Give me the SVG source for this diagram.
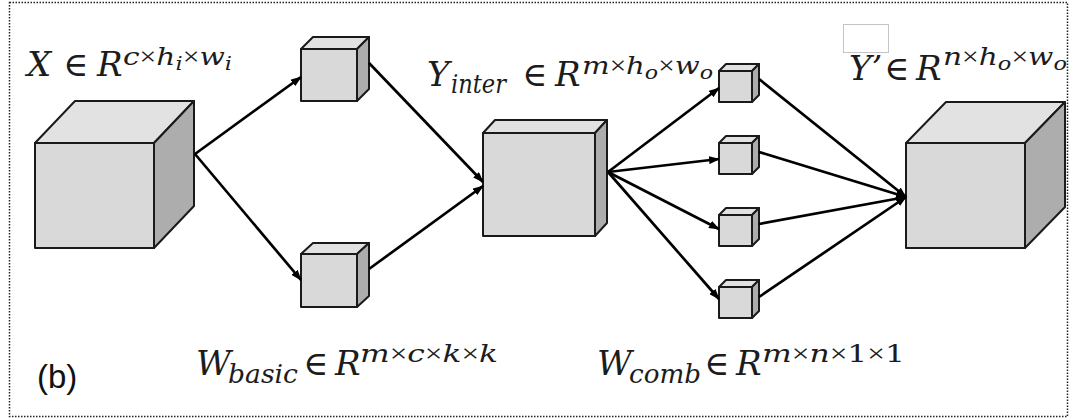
<svg xmlns="http://www.w3.org/2000/svg" width="1071" height="419" viewBox="0 0 1071 419">
  <style>
    .front { fill: #d9d9d9; stroke: #1a1a1a; stroke-width: 2; stroke-linejoin: round; }
    .top { fill: #e2e2e2; stroke: #1a1a1a; stroke-width: 2; stroke-linejoin: round; }
    .side { fill: #adadad; stroke: #1a1a1a; stroke-width: 2; stroke-linejoin: round; }
    .edge { stroke: #000; stroke-width: 2.7; fill: none; marker-end: url(#arrow); }
    .mi { font-family: "DejaVu Serif", "Liberation Serif", serif; font-style: italic; fill: #1c1c1c; }
    .mo { font-family: "DejaVu Serif", "Liberation Serif", serif; fill: #1c1c1c; }
    .up { font-style: normal; }
    .x { font-family: "Liberation Serif", "DejaVu Serif", serif; font-style: normal; }
    .big { font-size: 34px; }
    .sub { font-size: 26px; }
    .sup { font-size: 25px; }
    .ss { font-size: 19px; }
    .lbl { font-family: "Liberation Sans", Arial, sans-serif; font-size: 33px; fill: #111; }
  </style>
  <defs>
    <marker id="arrow" viewBox="0 0 11 8" markerUnits="userSpaceOnUse" markerWidth="11" markerHeight="8" refX="10" refY="4" orient="auto">
      <path d="M0,0 L11,4 L0,8 z" fill="#000"/>
    </marker>
  </defs>

  <rect width="1071" height="419" fill="#fff"/>
  <!-- dotted frame -->
  <rect x="9.5" y="2.5" width="1058" height="414" fill="none" stroke="#222" stroke-width="1.5" stroke-dasharray="1.5 1.5"/>

  <!-- input tensor X -->
  <g id="node-x">
    <polygon class="top" points="35,143 75,101 194,101 154,143"/>
    <polygon class="side" points="154,143 194,101 194,206 154,248"/>
    <rect class="front" x="35" y="143" width="119" height="105"/>
  </g>

  <!-- basic filters -->
  <g id="node-w1">
    <polygon class="top" points="301,49 313,37 369,37 357,49"/>
    <polygon class="side" points="357,49 369,37 369,89 357,101"/>
    <rect class="front" x="301" y="49" width="56" height="52"/>
  </g>
  <g id="node-w2">
    <polygon class="top" points="301,254 313,243 369,243 357,254"/>
    <polygon class="side" points="357,254 369,243 369,296 357,307"/>
    <rect class="front" x="301" y="254" width="56" height="53"/>
  </g>

  <!-- intermediate tensor -->
  <g id="node-yinter">
    <polygon class="top" points="483,133 495,120 607,120 595,133"/>
    <polygon class="side" points="595,133 607,120 607,223 595,236"/>
    <rect class="front" x="483" y="133" width="112" height="103"/>
  </g>

  <!-- 1x1 combination filters -->
  <g id="node-c1">
    <polygon class="top" points="719,71 726,64 759,64 752,71"/>
    <polygon class="side" points="752,71 759,64 759,95 752,102"/>
    <rect class="front" x="719" y="71" width="33" height="31"/>
  </g>
  <g id="node-c2">
    <polygon class="top" points="719,143 726,136 759,136 752,143"/>
    <polygon class="side" points="752,143 759,136 759,167 752,174"/>
    <rect class="front" x="719" y="143" width="33" height="31"/>
  </g>
  <g id="node-c3">
    <polygon class="top" points="719,215 726,208 759,208 752,215"/>
    <polygon class="side" points="752,215 759,208 759,239 752,246"/>
    <rect class="front" x="719" y="215" width="33" height="31"/>
  </g>
  <g id="node-c4">
    <polygon class="top" points="719,287 726,280 759,280 752,287"/>
    <polygon class="side" points="752,287 759,280 759,311 752,318"/>
    <rect class="front" x="719" y="287" width="33" height="31"/>
  </g>

  <!-- output tensor Y' -->
  <g id="node-yout">
    <polygon class="top" points="906,143 946,102 1065,102 1025,143"/>
    <polygon class="side" points="1025,143 1065,102 1065,207 1025,248"/>
    <rect class="front" x="906" y="143" width="119" height="105"/>
  </g>

  <!-- connectors -->
  <g id="edges">
    <line class="edge" x1="195" y1="154" x2="301" y2="77"/>
    <line class="edge" x1="195" y1="154" x2="301" y2="280"/>
    <line class="edge" x1="369" y1="63" x2="483" y2="182"/>
    <line class="edge" x1="369" y1="269" x2="483" y2="186"/>
    <line class="edge" x1="608" y1="172" x2="719" y2="88"/>
    <line class="edge" x1="608" y1="172" x2="719" y2="159"/>
    <line class="edge" x1="608" y1="172" x2="719" y2="229"/>
    <line class="edge" x1="608" y1="172" x2="719" y2="299"/>
    <line class="edge" x1="759" y1="79" x2="906" y2="197"/>
    <line class="edge" x1="759" y1="152" x2="906" y2="197"/>
    <line class="edge" x1="759" y1="224" x2="906" y2="197"/>
    <line class="edge" x1="759" y1="297" x2="906" y2="197"/>
  </g>

  <!-- X ∈ R^{c×h_i×w_i} -->
  <g id="label-x">
    <text class="mi big" x="27" y="76">X</text>
    <text class="mo big" x="63" y="76">∈</text>
    <text class="mi big" x="97" y="76">R</text>
    <text class="mi sup" x="123" y="65" textLength="109" lengthAdjust="spacingAndGlyphs">c<tspan class="x">×</tspan>h<tspan class="ss" dy="5">i</tspan><tspan class="x" dy="-5">×</tspan>w<tspan class="ss" dy="5">i</tspan></text>
  </g>

  <!-- Y_inter ∈ R^{m×h_o×w_o} -->
  <g id="label-yinter">
    <text class="mi big" x="427" y="86">Y</text>
    <text class="mi sub" x="451" y="93" textLength="55" lengthAdjust="spacingAndGlyphs">inter</text>
    <text class="mo big" x="522" y="86">∈</text>
    <text class="mi big" x="555" y="86">R</text>
    <text class="mi sup" x="582" y="74" textLength="131" lengthAdjust="spacingAndGlyphs">m<tspan class="x">×</tspan>h<tspan class="ss" dy="5">o</tspan><tspan class="x" dy="-5">×</tspan>w<tspan class="ss" dy="5">o</tspan></text>
  </g>

  <!-- Y' ∈ R^{n×h_o×w_o} -->
  <g id="label-yout">
    <rect x="843.5" y="24.5" width="45" height="28" fill="none" stroke="#c4c4c4" stroke-width="1"/>
    <text class="mi big" x="849" y="80">Y’</text>
    <text class="mo big" x="884" y="80">∈</text>
    <text class="mi big" x="916" y="80">R</text>
    <text class="mi sup" x="943" y="65" textLength="124" lengthAdjust="spacingAndGlyphs">n<tspan class="x">×</tspan>h<tspan class="ss" dy="5">o</tspan><tspan class="x" dy="-5">×</tspan>w<tspan class="ss" dy="5">o</tspan></text>
  </g>

  <!-- W_basic ∈ R^{m×c×k×k} -->
  <g id="label-wbasic">
    <text class="mi big" x="196" y="375">W</text>
    <text class="mi sub" x="228" y="383" textLength="70" lengthAdjust="spacingAndGlyphs">basic</text>
    <text class="mo big" x="303" y="375">∈</text>
    <text class="mi big" x="335" y="375">R</text>
    <text class="mi sup" x="360" y="362" textLength="138" lengthAdjust="spacingAndGlyphs">m<tspan class="x">×</tspan>c<tspan class="x">×</tspan>k<tspan class="x">×</tspan>k</text>
  </g>

  <!-- W_comb ∈ R^{m×n×1×1} -->
  <g id="label-wcomb">
    <text class="mi big" x="597" y="375">W</text>
    <text class="mi sub" x="629" y="383" textLength="72" lengthAdjust="spacingAndGlyphs">comb</text>
    <text class="mo big" x="704" y="375">∈</text>
    <text class="mi big" x="736" y="375">R</text>
    <text class="mi sup" x="762" y="362" textLength="143" lengthAdjust="spacingAndGlyphs">m<tspan class="x">×</tspan>n<tspan class="x">×</tspan><tspan class="up">1</tspan><tspan class="x">×</tspan><tspan class="up">1</tspan></text>
  </g>

  <!-- panel tag -->
  <text class="lbl" x="37" y="388">(b)</text>
</svg>
